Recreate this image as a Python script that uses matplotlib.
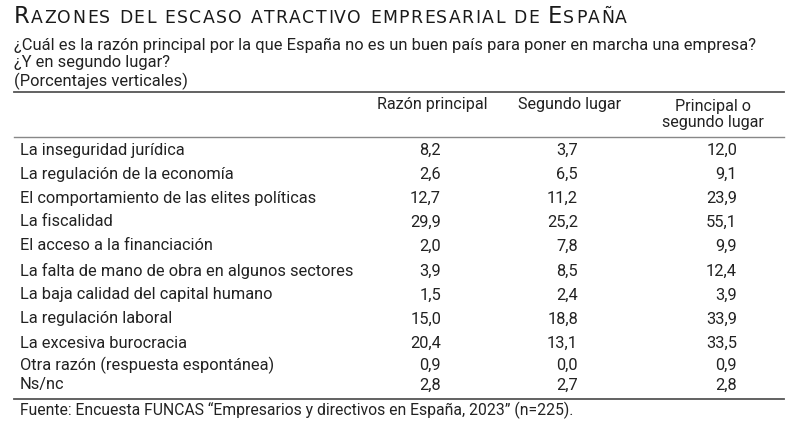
import matplotlib
matplotlib.use("Agg")
import matplotlib.pyplot as plt

TITLE = "Razones del escaso atractivo empresarial de España"
SUBTITLE = [
    "¿Cuál es la razón principal por la que España no es un buen país para poner en marcha una empresa?",
    "¿Y en segundo lugar?",
    "(Porcentajes verticales)",
]
COLUMNS = ["Razón principal", "Segundo lugar", "Principal o\nsegundo lugar"]
reasons = [
    "La inseguridad jurídica",
    "La regulación de la economía",
    "El comportamiento de las elites políticas",
    "La fiscalidad",
    "El acceso a la financiación",
    "La falta de mano de obra en algunos sectores",
    "La baja calidad del capital humano",
    "La regulación laboral",
    "La excesiva burocracia",
    "Otra razón (respuesta espontánea)",
    "Ns/nc",
]
principal = [8.2, 2.6, 12.7, 29.9, 2.0, 3.9, 1.5, 15.0, 20.4, 0.9, 2.8]
segundo = [3.7, 6.5, 11.2, 25.2, 7.8, 8.5, 2.4, 18.8, 13.1, 0.0, 2.7]
ambos = [12.0, 9.1, 23.9, 55.1, 9.9, 12.4, 3.9, 33.9, 33.5, 0.9, 2.8]
SOURCE = "Fuente: Encuesta FUNCAS \u201cEmpresarios y directivos en España, 2023\u201d (n=225)."

TXT = "#222222"
BODY = "Roboto"


def fmt(v):
    return f"{v:.1f}".replace(".", ",")


W, H = 801, 430
fig = plt.figure(figsize=(W / 100, H / 100), dpi=100)
ax = fig.add_axes([0, 0, 1, 1])
ax.set_xlim(0, W)
ax.set_ylim(H, 0)
ax.axis("off")

# title in small caps: capitals larger, the rest as small uppercase,
# letter-spaced so it spans the same width as the original
fig.canvas.draw()
r = fig.canvas.get_renderer()
glyphs = []
for ch in TITLE:
    big = ch.isupper()
    t = ax.text(0, 23, ch.upper(), fontsize=16.3 if big else 12.4,
                family="DejaVu Sans", color="#1a1a1a", va="baseline", ha="left")
    w = t.get_window_extent(renderer=r).width if ch != " " else 6.0
    glyphs.append((t, w))
total = sum(w for _, w in glyphs)
gap = (613 - total) / (len(glyphs) - 1)
x = 14
for t, w in glyphs:
    t.set_x(x)
    x += w + gap

for i, line in enumerate(SUBTITLE):
    ax.text(14, 45 + 18 * i, line, fontsize=11.9, family=BODY, color=TXT, va="center")

ax.plot([14, 784], [92, 92], color="#555555", lw=1.3)
ax.plot([14, 784], [136.5, 136.5], color="#888888", lw=1.0)
ax.plot([14, 784], [399, 399], color="#555555", lw=1.3)

col_centers = [432, 570, 713]
col_right = [441, 578, 737]
ax.text(col_centers[0], 104, COLUMNS[0], fontsize=11.6, family=BODY, color=TXT,
        ha="center", va="center")
ax.text(col_centers[1], 104, COLUMNS[1], fontsize=11.6, family=BODY, color=TXT,
        ha="center", va="center")
ax.text(col_centers[2], 114.5, COLUMNS[2], fontsize=11.6, family=BODY, color=TXT,
        ha="center", va="center", linespacing=1.12)

row_y = [150, 174, 198, 222, 246, 271, 295, 319, 343, 365, 385]
for yy, name, a, b, c in zip(row_y, reasons, principal, segundo, ambos):
    ax.text(20, yy, name, fontsize=11.8, family=BODY, color=TXT, va="center")
    for xr, v in zip(col_right, (a, b, c)):
        ax.text(xr, yy, fmt(v), fontsize=11.8, family=BODY, color=TXT,
                va="center", ha="right")

ax.text(20, 410, SOURCE, fontsize=11.3, family=BODY, color=TXT, va="center")

fig.savefig("out.png", dpi=100)
